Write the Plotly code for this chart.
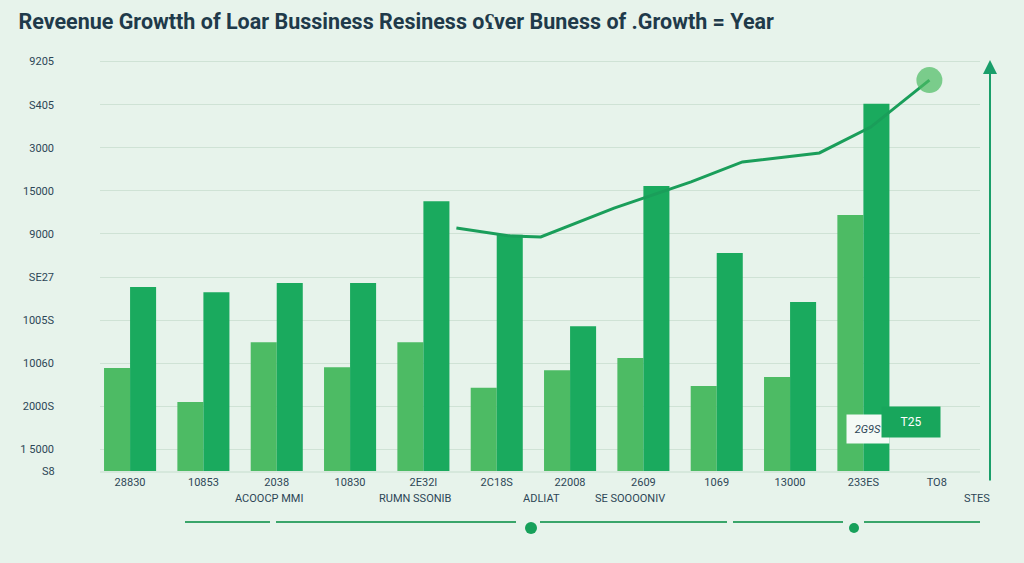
import plotly.graph_objects as go

# ---- data ----
x_labels = ["28830", "10853", "2038", "10830", "2E32I", "2C18S", "22008",
            "2609", "1069", "13000", "233ES", "TO8"]
y_tick_labels = ["1 5000", "2000S", "10060", "1005S", "SE27", "9000",
                 "15000", "3000", "S405", "9205"]
y_tick_vals = [0.5, 1.5, 2.5, 3.5, 4.5, 5.5, 6.5, 7.5, 8.5, 9.5]

light_values = [2.39, 1.60, 2.99, 2.41, 2.99, 1.93, 2.34, 2.62, 1.97, 2.18, 5.94, None]
dark_values = [4.27, 4.15, 4.36, 4.36, 6.26, 5.48, 3.36, 6.61, 5.06, 3.92, 8.52, None]

line_x = [4.45, 5.2, 5.6, 6.6, 7.65, 8.35, 9.4, 10.1, 10.9]
line_y = [5.64, 5.45, 5.43, 6.10, 6.71, 7.17, 7.38, 7.98, 9.07]

sub_labels = ["ACOOCP MMI", "RUMN SSONIB", "ADLIAT", "SE SOOOONIV", "STES"]

# ---- figure ----
cats = list(range(len(x_labels)))
fig = go.Figure()
fig.add_trace(go.Bar(x=cats, y=light_values, marker_color="#4dbb64",
                     marker_line_width=0, name="a"))
fig.add_trace(go.Bar(x=cats, y=dark_values, marker_color="#1aaa5e",
                     marker_line_width=0, name="b"))
marker_sizes = [0] * (len(line_x) - 1) + [26]
fig.add_trace(go.Scatter(x=line_x, y=line_y, mode="lines+markers",
                         line=dict(color="#1a9e5a", width=3),
                         marker=dict(size=marker_sizes, color="#4cbb62",
                                     line=dict(width=0)),
                         name="c"))

bg = "#e7f3eb"
fig.update_layout(
    width=1024, height=563,
    paper_bgcolor=bg, plot_bgcolor=bg,
    margin=dict(l=100, r=44, t=40, b=92),
    showlegend=False,
    barmode="group", bargap=0.29, bargroupgap=0,
    title=dict(text="<b>Reveenue Growtth of Loar Bussiness Resiness oʕver Buness of .Growth = Year</b>",
               x=0.018, xanchor="left", y=0.962, yanchor="middle",
               font=dict(family="Roboto", size=21.5, color="#1f3a4a")),
    font=dict(family="Roboto", color="#2d4656"),
)
fig.update_xaxes(range=[-0.41, 11.59], tickmode="array", tickvals=cats,
                 ticktext=x_labels, showgrid=False, zeroline=False,
                 showline=True, linecolor="#d6e8dc", linewidth=2,
                 tickfont=dict(size=11, color="#2d4656"), ticks="")
fig.update_yaxes(range=[0, 10.0], tickmode="array", tickvals=y_tick_vals,
                 ticktext=y_tick_labels, showgrid=True, gridcolor="#cfe2d5",
                 gridwidth=1, zeroline=False, ticklabelstandoff=45,
                 tickfont=dict(size=11, color="#2d4656"))

# bottom secondary labels
sub_pos = [233, 415, 541, 630, 992]
for txt, px in zip(sub_labels, sub_pos):
    fig.add_annotation(x=(px - 100) / 880, y=(471 - 507) / 431, xref="paper", yref="paper",
                       text=txt, showarrow=False, font=dict(size=11, color="#2d4656"))
fig.add_annotation(x=(40 - 100) / 880, y=(471 - 480) / 431, xref="paper", yref="paper",
                   text="S8", showarrow=False, font=dict(size=11, color="#2d4656"))

# decorative bottom line segments and dots
seg_y = (471 - 522) / 431
for a, b in [(185, 270), (276, 516), (540, 727), (733, 843), (864, 980)]:
    fig.add_shape(type="line", xref="paper", yref="paper",
                  x0=(a - 100) / 880, x1=(b - 100) / 880, y0=seg_y, y1=seg_y,
                  line=dict(color="#3aa56a", width=2))
for px, r in [(531, 6), (854, 5)]:
    cx = (px - 100) / 880
    cy = (471 - 528) / 431
    fig.add_shape(type="circle", xref="paper", yref="paper",
                  x0=cx - r / 880, x1=cx + r / 880, y0=cy - r / 431, y1=cy + r / 431,
                  fillcolor="#17a05a", line=dict(width=0))

# right vertical arrow
fig.add_annotation(x=(990 - 100) / 880, y=(471 - 60) / 431, xref="paper", yref="paper",
                   ax=0, ay=422, axref="pixel", ayref="pixel",
                   showarrow=True, arrowhead=2, arrowsize=1.4, arrowwidth=2,
                   arrowcolor="#1a9e6a", text="")

# small label boxes at the lower right
fig.add_annotation(x=(890 - 100) / 880, y=(471 - 444) / 431, xref="paper", yref="paper",
                   text="<i>2G9S</i>", showarrow=False, bgcolor="#f4faf6",
                   font=dict(size=11, color="#2d4656"), width=40, height=26)
fig.add_annotation(x=(941 - 100) / 880, y=(471 - 438) / 431, xref="paper", yref="paper",
                   text="T25", showarrow=False, bgcolor="#18a65c",
                   font=dict(size=12, color="#ffffff"), width=56, height=28)

fig.write_html("out.html", config={"displayModeBar": False},
               post_script="document.body.style.margin='0';")
